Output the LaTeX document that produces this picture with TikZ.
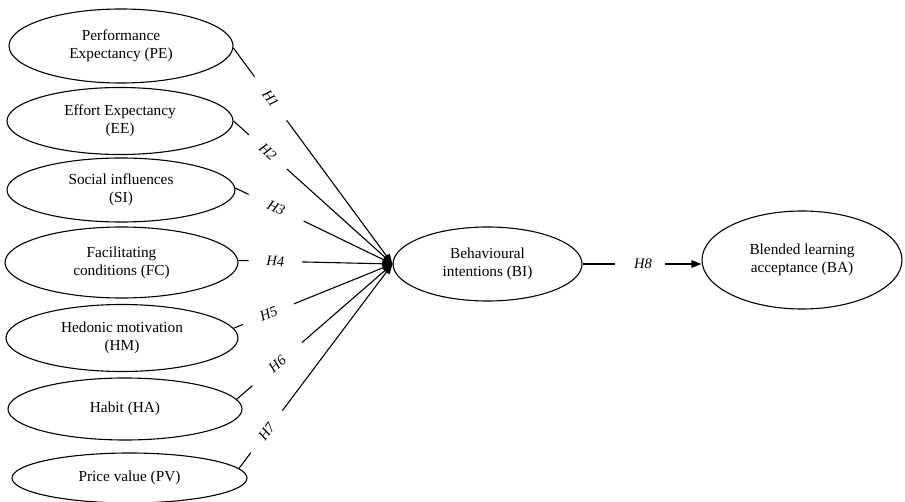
\documentclass[tikz,border=0pt]{standalone}
\usepackage{fontspec}
\setmainfont{Liberation Serif}
\usetikzlibrary{shapes.geometric,arrows.meta}
\begin{document}
\begin{tikzpicture}[x=1pt,y=-1pt,
  construct/.style={ellipse,draw,line width=1.1pt,inner sep=0pt,align=center,
    font=\fontsize{15.3}{18}\selectfont},
  hyp/.style={sloped,inner sep=1pt,
    font=\fontsize{14.5}{16}\selectfont\itshape},
  seg/.style={line width=1.1pt},
  link/.style={line width=1.1pt,-{Triangle[length=10pt,width=7.5pt]}}]
\useasboundingbox (0,0) rectangle (905,502);
\node[construct,minimum width=224pt,minimum height=74pt] (PE) at (121,46) {Performance\\Expectancy (PE)};
\node[construct,minimum width=226pt,minimum height=67pt] (EE) at (120,121) {Effort Expectancy\\(EE)};
\node[construct,minimum width=228pt,minimum height=64pt] (SI) at (121,190) {Social influences\\(SI)};
\node[construct,minimum width=233pt,minimum height=71pt] (FC) at (121.5,262.5) {Facilitating\\conditions (FC)};
\node[construct,minimum width=232pt,minimum height=67pt] (HM) at (122,338) {Hedonic motivation\\(HM)};
\node[construct,minimum width=234pt,minimum height=62pt] (HA) at (125,409) {Habit (HA)};
\node[construct,minimum width=235pt,minimum height=50pt] (PV) at (129.5,478) {Price value (PV)};
\node[construct,minimum width=189pt,minimum height=74pt] (BI) at (487.5,264) {Behavioural\\intentions (BI)};
\node[construct,minimum width=200pt,minimum height=98pt] (BA) at (802,260) {Blended learning\\acceptance (BA)};
% H1
\path (PE.-1) -- coordinate[pos=0.133] (a1) node[hyp,pos=0.234] (l1) {H1} coordinate[pos=0.335] (b1) (BI.west);
\draw[seg] (PE.-1) -- (a1);
\draw[link] (b1) -- (BI.west);
% H2
\path (EE.east) -- coordinate[pos=0.096] (a2) node[hyp,pos=0.216] (l2) {H2} coordinate[pos=0.336] (b2) (BI.west);
\draw[seg] (EE.east) -- (a2);
\draw[link] (b2) -- (BI.west);
% H3
\path (SI.1) -- coordinate[pos=0.085] (a3) node[hyp,pos=0.26] (l3) {H3} coordinate[pos=0.435] (b3) (BI.west);
\draw[seg] (SI.1) -- (a3);
\draw[link] (b3) -- (BI.west);
% H4
\path (FC.1) -- coordinate[pos=0.067] (a4) node[hyp,pos=0.24] (l4) {H4} coordinate[pos=0.413] (b4) (BI.west);
\draw[seg] (FC.1) -- (a4);
\draw[link] (b4) -- (BI.west);
% H5
\path (HM.5) -- coordinate[pos=0.06] (a5) node[hyp,pos=0.22] (l5) {H5} coordinate[pos=0.38] (b5) (BI.west);
\draw[seg] (HM.5) -- (a5);
\draw[link] (b5) -- (BI.west);
% H6
\path (HA.5) -- coordinate[pos=0.1] (a6) node[hyp,pos=0.26] (l6) {H6} coordinate[pos=0.42] (b6) (BI.west);
\draw[seg] (HA.5) -- (a6);
\draw[link] (b6) -- (BI.west);
% H7
\path (PV.5) -- coordinate[pos=0.077] (a7) node[hyp,pos=0.18] (l7) {H7} coordinate[pos=0.283] (b7) (BI.west);
\draw[seg] (PV.5) -- (a7);
\draw[link] (b7) -- (BI.west);
% H8
\path (BI.east) -- coordinate[pos=0.275] (a8) node[hyp,pos=0.508] (l8) {H8} coordinate[pos=0.692] (b8) (BI.east -| BA.west);
\draw[seg] (BI.east) -- (a8);
\draw[link] (b8) -- (BI.east -| BA.west);
\end{tikzpicture}
\end{document}
